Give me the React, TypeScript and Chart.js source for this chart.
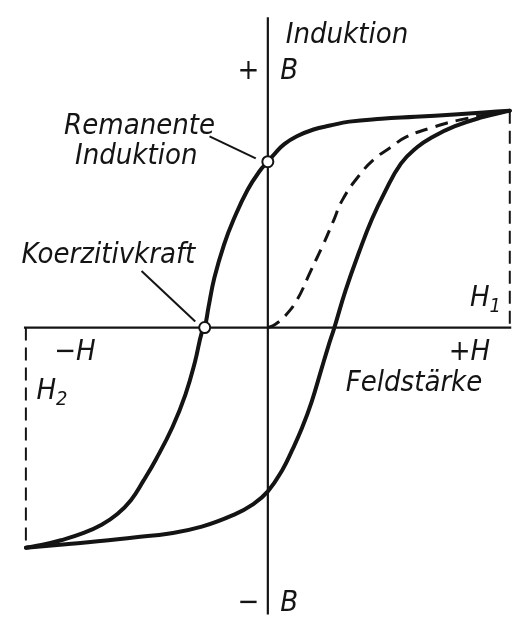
import React, { useEffect, useRef } from "react";
import { Chart, registerables } from "chart.js";

Chart.register(...registerables);

// Field strength H (arbitrary units, ±100 = H1/H2) and induction B (±100 = saturation)
// Descending branch: from +H1 saturation back to -H2 saturation
const descH = [100, 89.2, 77.1, 61, 47, 33.7, 25.7, 18.9, 12, 6.8, 2.8, 0, -3.2, -8.4, -14.1, -18.1, -22.1, -24.5, -26.1, -27.3, -30.1, -34.1, -39.4, -46.2, -51.4, -56.6, -62.2, -68.7, -76.7, -85.5, -93.6, -100];
const descB = [99, 98.2, 97.3, 96.2, 95.3, 94.0, 92.2, 90.4, 87.3, 83.7, 79.3, 75.7, 71.7, 62.8, 49.4, 37.9, 22.7, 9.4, 0, -2.2, -15.6, -30.7, -45.4, -60.1, -69.9, -78.8, -85.1, -90.0, -94.0, -97.1, -99.3, -100.5];

// Ascending branch: from -H2 saturation up to +H1 saturation
const ascH = [-100, -83.5, -70.3, -55.4, -40.6, -27.3, -14.1, -6, 0, 6, 10, 14.1, 18.1, 22.1, 24.9, 27.5, 32.1, 37.8, 43, 48.2, 55, 61.8, 67.9, 77.1, 88, 100];
const ascB = [-100.5, -98.9, -97.6, -95.8, -94.0, -90.9, -85.5, -80.6, -74.8, -65, -56.1, -45.9, -33.9, -19.2, -8.9, 0, 16.9, 34.7, 49.4, 61.5, 74.8, 82.4, 86.9, 91.8, 95.8, 99];

// Virgin (new) curve, dashed
const virginH = [0, 2.8, 6.8, 12.0, 17.7, 22.9, 26.9, 30.9, 37.8, 44.2, 51.0, 57.0, 67.9, 79.9, 100];
const virginB = [0, 1.3, 4.9, 12.5, 25.8, 37.9, 48.1, 58.4, 69.5, 77.1, 82.4, 86.9, 91.3, 94.9, 99];

// Marked points
const remanenceH = [0];
const remanenceB = [75.7];
const coercivityH = [-26.1];
const coercivityB = [0];

// Axes extents
const hAxisH = [-100.8, 100.6];
const bAxisB = [141.6, -135];
const H1 = 100;
const H2 = -100;
const B1 = 99;
const B2 = -100.5;

// Leader lines (label anchor -> point)
const remLeaderH = [-24.1, -5.0];
const remLeaderB = [87.3, 77.2];
const coerLeaderH = [-52.2, -30.0];
const coerLeaderB = [25.8, 2.8];

const pts = (xs: number[], ys: number[]) => xs.map((x, i) => ({ x, y: ys[i] }));

type Label = { text: string; h: number; b: number; align?: CanvasTextAlign; size?: number; sub?: string };
const labels: Label[] = [
  { text: "Induktion", h: 32.7, b: 130.1, align: "center" },
  { text: "+", h: -8.0, b: 113.6, align: "center" },
  { text: "B", h: 8.8, b: 113.6, align: "center" },
  { text: "Remanente", h: -53.0, b: 88.2, align: "center" },
  { text: "Induktion", h: -54.4, b: 74.8, align: "center" },
  { text: "Koerzitivkraft", h: -65.9, b: 29.4, align: "center" },
  { text: "H", h: 87.6, b: 9.8, align: "center", sub: "1" },
  { text: "\u2212H", h: -79.7, b: -14.7, align: "center" },
  { text: "+H", h: 83.3, b: -14.7, align: "center" },
  { text: "Feldst\u00e4rke", h: 60.4, b: -29.0, align: "center" },
  { text: "H", h: -91.6, b: -32.5, align: "center", sub: "2" },
  { text: "\u2212", h: -8.0, b: -129.2, align: "center" },
  { text: "B", h: 8.8, b: -129.2, align: "center" },
];

const INK = "#141414";
const FONT_FAMILY = '"DejaVu Sans Condensed", "DejaVu Sans", sans-serif';

const labelPlugin = {
  id: "labels",
  afterDatasetsDraw(chart: any) {
    const { ctx, scales } = chart;
    ctx.save();
    ctx.fillStyle = INK;
    ctx.textBaseline = "alphabetic";
    for (const l of labels) {
      const size = l.size ?? 29;
      ctx.font = `italic ${size}px ${FONT_FAMILY}`;
      ctx.textAlign = l.align ?? "left";
      const x = scales.x.getPixelForValue(l.h);
      const y = scales.y.getPixelForValue(l.b);
      ctx.fillText(l.text, x, y);
      if (l.sub) {
        const w = ctx.measureText(l.text).width;
        const right = l.align === "center" ? x + w / 2 : x + w;
        ctx.font = `italic ${Math.round(size * 0.68)}px ${FONT_FAMILY}`;
        ctx.textAlign = "left";
        ctx.fillText(l.sub, right, y + 6);
      }
    }
    ctx.restore();
  },
};

export default function App() {
  const ref = useRef<HTMLCanvasElement | null>(null);

  useEffect(() => {
    if (!ref.current) return;
    const line = (data: any[], width: number, dash: number[] = []) => ({
      data,
      showLine: true,
      borderColor: INK,
      borderWidth: width,
      borderDash: dash,
      pointRadius: 0,
      fill: false,
      tension: 0,
    });
    const curve = (data: any[], width: number, dash: number[] = []) => ({
      ...line(data, width, dash),
      tension: 0.45,
      cubicInterpolationMode: "default",
      borderCapStyle: "round",
      borderJoinStyle: "round",
    });
    const chart = new Chart(ref.current, {
      type: "scatter",
      data: {
        datasets: [
          {
            data: [...pts(remanenceH, remanenceB), ...pts(coercivityH, coercivityB)],
            showLine: false,
            pointRadius: 5.5,
            pointBorderWidth: 2,
            pointBackgroundColor: "#ffffff",
            pointBorderColor: INK,
          } as any,
          curve(pts(descH, descB), 4),
          curve(pts(ascH, ascB), 4),
          { ...curve(pts(virginH, virginB), 3, [13, 8]), borderCapStyle: "butt" } as any,
          line(pts(remLeaderH, remLeaderB), 2),
          line(pts(coerLeaderH, coerLeaderB), 2),
          line([{ x: H1, y: B1 }, { x: H1, y: 0 }], 2, [13, 7]),
          line([{ x: H2, y: 0 }, { x: H2, y: B2 }], 2, [13, 7]),
          line(pts(hAxisH, [0, 0]), 2.2),
          line(pts([0, 0], bAxisB), 2.2),
        ] as any,
      },
      options: {
        animation: false,
        responsive: false,
        devicePixelRatio: 1,
        layout: { padding: 0 },
        plugins: { legend: { display: false }, tooltip: { enabled: false } },
        scales: {
          x: { type: "linear", display: false, min: -107.6, max: 103.6 },
          y: { type: "linear", display: false, min: -131, max: 146.1 },
        },
      } as any,
      plugins: [labelPlugin],
    });
    return () => chart.destroy();
  }, []);

  return (
    <div style={{ position: "fixed", left: 0, top: 0, width: 526, height: 622, background: "#ffffff" }}>
      <canvas ref={ref} width={526} height={622} style={{ width: 526, height: 622 }} />
    </div>
  );
}
